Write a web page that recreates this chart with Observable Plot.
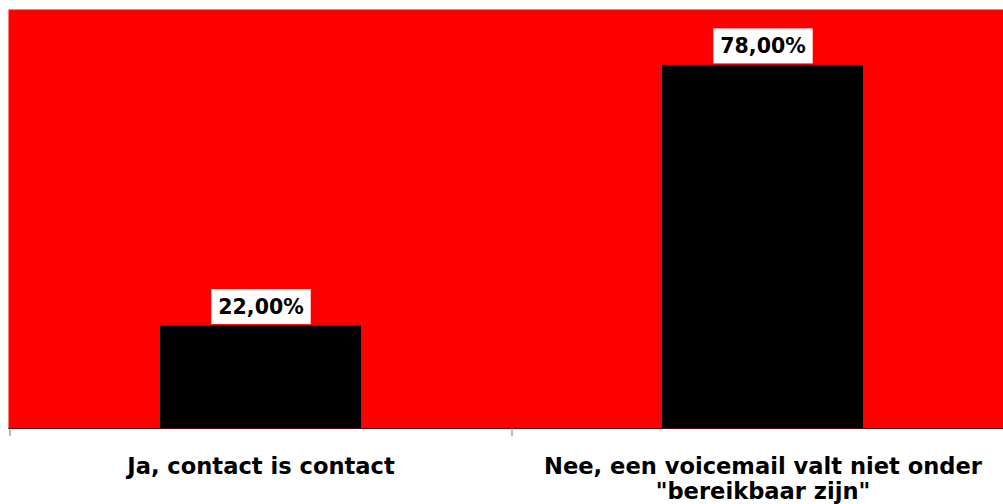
<!DOCTYPE html>
<html>
<head>
<meta charset="utf-8">
<script src="https://cdn.jsdelivr.net/npm/d3@7"></script>
<script src="https://cdn.jsdelivr.net/npm/@observablehq/plot@0.6"></script>
<style>
  html, body { margin: 0; padding: 0; background: #fff; overflow: hidden; }
  svg { display: block; }
</style>
</head>
<body>
<div id="chart"></div>
<script>
const categories = ["Ja, contact is contact", "Nee, een voicemail valt niet onder\n\"bereikbaar zijn\""];
const values = [22, 78];
const yDomain = [0, 90];

const data = categories.map((c, i) => ({category: c, value: values[i]}));
const fmt = v => v.toFixed(2).replace(".", ",") + "%";
const font = "'DejaVu Sans', Verdana, sans-serif";

const plot = Plot.plot({
  width: 1003,
  height: 504,
  marginTop: 9,
  marginBottom: 76,
  marginLeft: 8,
  marginRight: 0,
  style: {fontFamily: font, background: "#fff", overflow: "hidden"},
  x: {domain: categories, range: [9, 1013], paddingInner: 0.6, paddingOuter: 0.3, axis: null},
  y: {domain: yDomain, axis: null},
  marks: [
    Plot.frame({fill: "#ff0000", stroke: "none"}),
    Plot.barY(data, {x: "category", y: "value", fill: "#000000"}),
    Plot.ruleY([0], {stroke: "#5c1010", strokeWidth: 1}),
    Plot.ruleX(data, {x: "category", y1: 0, y2: 0, insetBottom: -8, dx: -251, stroke: "#777"}),
    Plot.text(data, {
      x: "category", y: "value", text: d => fmt(d.value),
      lineAnchor: "bottom", dy: -12, fontSize: 20.5, fontWeight: "bold",
      fill: "#000"
    }),
    Plot.text(data, {
      x: "category", text: "category", frameAnchor: "bottom",
      lineAnchor: "top", dy: 27, fontSize: 22.6, fontWeight: "bold",
      lineHeight: 1.13, fill: "#000"
    })
  ]
});

document.getElementById("chart").appendChild(plot);

// white boxes behind the value labels
d3.select(plot).selectAll("text").filter(function() {
  return /%$/.test(this.textContent.trim());
}).each(function() {
  const bb = this.getBBox();
  const r = document.createElementNS("http://www.w3.org/2000/svg", "rect");
  r.setAttribute("x", bb.x - 7);
  r.setAttribute("y", bb.y - 6);
  r.setAttribute("width", bb.width + 14);
  r.setAttribute("height", bb.height + 11);
  r.setAttribute("fill", "#fff");
  const t = this.getAttribute("transform");
  if (t) r.setAttribute("transform", t);
  this.parentNode.insertBefore(r, this);
});
</script>
</body>
</html>
